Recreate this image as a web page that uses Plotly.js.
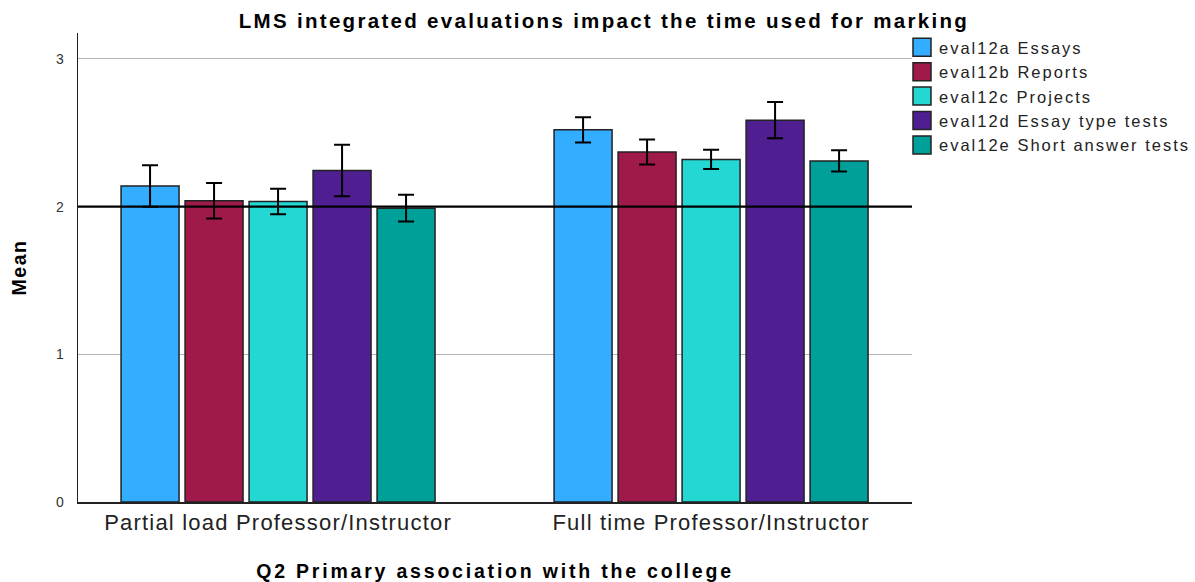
<!DOCTYPE html>
<html>
<head>
<meta charset="utf-8">
<script src="https://cdn.plot.ly/plotly-3.0.1.min.js"></script>
<style>
  html, body { margin: 0; padding: 0; background: #fff; }
  #chart { width: 1195px; height: 582px; }
  .gtitle { letter-spacing: 2.3px; }
  .xtitle { letter-spacing: 2.8px; }
  .ytitle { letter-spacing: 1.5px; }
  .xtick text { letter-spacing: 1.2px; }
  .legendtext { letter-spacing: 2px; }
</style>
</head>
<body>
<div id="chart"></div>
<script>
const categories = ['Partial load Professor/Instructor', 'Full time Professor/Instructor'];
const seriesNames = ['eval12a Essays', 'eval12b Reports', 'eval12c Projects', 'eval12d Essay type tests', 'eval12e Short answer tests'];
const essays = [2.14, 2.52];
const essaysErr = [0.14, 0.085];
const reports = [2.04, 2.37];
const reportsErr = [0.12, 0.084];
const projects = [2.035, 2.32];
const projectsErr = [0.087, 0.065];
const essayTests = [2.245, 2.586];
const essayTestsErr = [0.175, 0.122];
const shortTests = [1.99, 2.31];
const shortTestsErr = [0.09, 0.072];
const colors = ['#33adff', '#a0194b', '#23d7d2', '#4f1f91', '#00a09a'];
const referenceLine = 2;

const values = [essays, reports, projects, essayTests, shortTests];
const errors = [essaysErr, reportsErr, projectsErr, essayTestsErr, shortTestsErr];

const FONT = '"Liberation Sans", Arial, sans-serif';

const traces = values.map((v, i) => ({
  type: 'bar',
  name: seriesNames[i],
  x: categories,
  y: v,
  marker: { color: colors[i], line: { color: '#222', width: 1.5 } },
  error_y: { type: 'data', array: errors[i], visible: true, color: '#000', thickness: 2, width: 8 },
  hoverinfo: 'skip'
}));

const layout = {
  width: 1195,
  height: 582,
  margin: { l: 78, r: 283, t: 33, b: 80, autoexpand: false },
  paper_bgcolor: '#fff',
  plot_bgcolor: '#fff',
  font: { family: FONT, color: '#222' },
  barmode: 'group',
  bargap: 0.261,
  bargroupgap: 0.094,
  title: {
    text: 'LMS integrated evaluations impact the time used for marking',
    font: { family: FONT, size: 20.5, color: '#000', weight: 'bold' },
    xref: 'container', x: 0.5054, xanchor: 'center',
    yref: 'container', y: 0.965, yanchor: 'middle'
  },
  xaxis: {
    type: 'category',
    range: [-0.462, 1.464],
    showline: true, linecolor: '#222', linewidth: 1.5,
    showgrid: false, ticks: '',
    tickfont: { family: FONT, size: 22, color: '#222' },
    title: { text: 'Q2 Primary association with the college', font: { family: FONT, size: 19.5, color: '#000', weight: 'bold' }, standoff: 30 }
  },
  yaxis: {
    range: [0, 3.176],
    dtick: 1, tick0: 0,
    showline: true, linecolor: '#222', linewidth: 1.5,
    showgrid: true, gridcolor: '#b4b4b4', gridwidth: 1,
    zeroline: false, ticks: '',
    ticklabelstandoff: 10,
    tickfont: { family: FONT, size: 14, color: '#333' },
    title: { text: 'Mean', font: { family: FONT, size: 19.5, color: '#000', weight: 'bold' }, standoff: 24 }
  },
  shapes: [{
    type: 'line', xref: 'paper', x0: 0, x1: 1, yref: 'y', y0: referenceLine, y1: referenceLine,
    line: { color: '#000', width: 2.2 }, layer: 'above'
  }],
  legend: {
    xref: 'container', x: 0.7523, xanchor: 'left',
    yref: 'container', y: 0.9485, yanchor: 'top',
    font: { family: FONT, size: 16.5, color: '#222' },
    bgcolor: 'rgba(0,0,0,0)', borderwidth: 0,
    tracegroupgap: 0, itemwidth: 30
  },
  showlegend: true
};

Plotly.newPlot('chart', traces, layout, { staticPlot: true, displayModeBar: false }).then(() => {
  document.querySelectorAll('.legendpoints path').forEach(p => {
    p.setAttribute('d', 'M12,9H-6V-9H12Z');
  });
});
</script>
</body>
</html>
